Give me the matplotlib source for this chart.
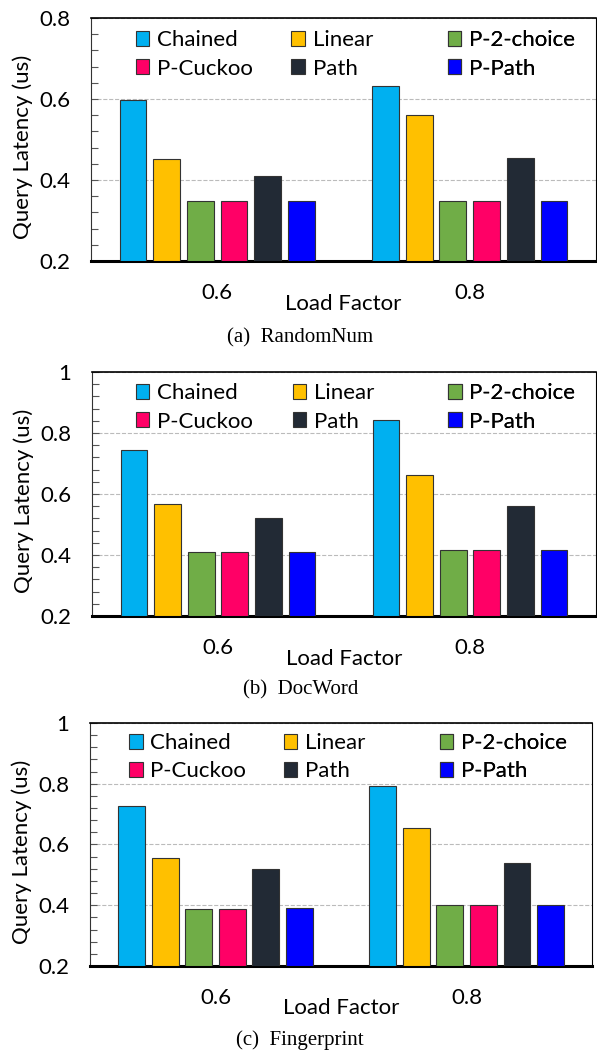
import matplotlib
matplotlib.use("Agg")
import matplotlib.pyplot as plt
import matplotlib.patches as mpatches
from matplotlib.ticker import MultipleLocator
import numpy as np

plt.rcParams['font.family'] = ['Lato', 'DejaVu Sans']

# data
load_factors = ['0.6', '0.8']
schemes = ['Chained', 'Linear', 'P-2-choice', 'P-Cuckoo', 'Path', 'P-Path']
colors = ['#00B0F0', '#FFC000', '#70AD47', '#FF0066', '#222A35', '#0000FF']

randomnum = [[0.597, 0.633],   # Chained
             [0.453, 0.561],   # Linear
             [0.347, 0.347],   # P-2-choice
             [0.347, 0.347],   # P-Cuckoo
             [0.411, 0.454],   # Path
             [0.347, 0.347]]   # P-Path
docword = [[0.745, 0.842],
           [0.568, 0.661],
           [0.409, 0.417],
           [0.409, 0.417],
           [0.520, 0.560],
           [0.409, 0.417]]
fingerprint = [[0.726, 0.793],
               [0.556, 0.654],
               [0.388, 0.400],
               [0.388, 0.400],
               [0.520, 0.539],
               [0.390, 0.400]]

panels = [
    # data, ymax, caption, axes rect, legend column x, legend y, caption y
    (randomnum, 0.8, '(a)  RandomNum', [0.1524, 0.7526, 0.8459, 0.2303], [0.089, 0.397, 0.707], 0.850, 0.680),
    (docword, 1.0, '(b)  DocWord', [0.1541, 0.4161, 0.8442, 0.2313], [0.087, 0.398, 0.707], 0.855, 0.346),
    (fingerprint, 1.0, '(c)  Fingerprint', [0.1508, 0.0844, 0.8409, 0.2303], [0.078, 0.386, 0.697], 0.859, 0.0142),
]

fig = plt.figure(figsize=(5.97, 10.55), dpi=100)

x = np.arange(len(load_factors))
step = 0.1335
width = 0.106

for data, ymax, caption, rect, leg_x, leg_y, cap_y in panels:
    ax = fig.add_axes(rect)
    handles = []
    for i, name in enumerate(schemes):
        ax.bar(x + (i - 2.5) * step, np.array(data[i]) - 0.2, width, bottom=0.2,
               color=colors[i], edgecolor='#333333', linewidth=0.8, zorder=3, label=name)
        handles.append(mpatches.Patch(facecolor=colors[i], edgecolor='#333333', linewidth=0.8, label=name))

    ax.set_xlim(-0.5, 1.5)
    ax.set_ylim(0.2, ymax)
    ax.yaxis.set_minor_locator(MultipleLocator(0.04))
    ticks = np.arange(0.2, ymax + 0.01, 0.2)
    ax.set_yticks(ticks)
    ax.set_yticklabels(['%g' % round(v, 1) for v in ticks])
    ax.tick_params(axis='y', which='both', direction='in', length=5, width=0.8, color='#555555',
                   labelsize=16, pad=15)
    ax.set_xticks(x)
    ax.set_xticklabels(load_factors)
    ax.tick_params(axis='x', length=0, labelsize=16, pad=16)
    ax.grid(axis='y', which='major', linestyle='--', color='#bbbbbb', linewidth=0.8, zorder=0)

    ax.spines['bottom'].set_linewidth(2.2)
    ax.spines['top'].set_linewidth(1.2)
    ax.spines['left'].set_linewidth(0.8)
    ax.spines['left'].set_color('#333333')
    ax.spines['right'].set_linewidth(0.8)

    ax.set_xlabel('Load Factor', fontsize=16)
    ax.xaxis.set_label_coords(0.5, -0.175)
    ax.xaxis.label.set_va('center')
    ax.set_ylabel('Query Latency (us)', fontsize=16)
    ax.yaxis.set_label_coords(-0.136, 0.47)
    ax.yaxis.label.set_va('center')

    # legend: three columns of two entries each
    for j in range(3):
        leg = ax.legend(handles=[handles[j], handles[j + 3]], loc='center left',
                        bbox_to_anchor=(leg_x[j], leg_y), frameon=False, fontsize=16,
                        borderpad=0, borderaxespad=0, handlelength=0.6, handleheight=0.65,
                        handletextpad=0.35, labelspacing=0.38)
        ax.add_artist(leg)

    fig.text(0.503, cap_y, caption, ha='center', va='center', fontsize=15,
             family=['Liberation Serif', 'DejaVu Serif'])

fig.savefig('out.png', dpi=100)
